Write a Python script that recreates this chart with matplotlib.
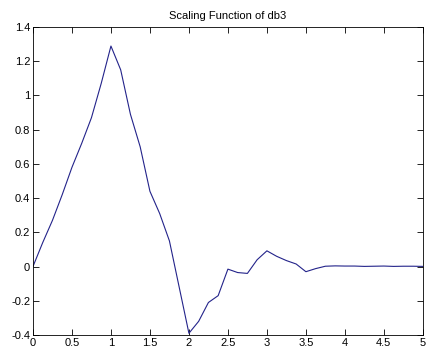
import numpy as np
import matplotlib
matplotlib.use("Agg")
import matplotlib.pyplot as plt

# db3 scaling function samples
x = np.arange(41) * 0.125
phi = [0.0, 0.14, 0.27, 0.42, 0.58, 0.72, 0.87, 1.07, 1.289,
       1.15, 0.89, 0.70, 0.44, 0.31, 0.15, -0.12, -0.39,
       -0.32, -0.21, -0.17, -0.015, -0.035, -0.04, 0.04, 0.092,
       0.06, 0.035, 0.015, -0.03, -0.012, 0.002, 0.004, 0.003,
       0.003, 0.001, 0.002, 0.003, 0.001, 0.002, 0.002, 0.001]

xticks = [0, 0.5, 1, 1.5, 2, 2.5, 3, 3.5, 4, 4.5, 5]
yticks = [-0.4, -0.2, 0, 0.2, 0.4, 0.6, 0.8, 1, 1.2, 1.4]

plt.rcParams["font.family"] = ["Liberation Sans", "DejaVu Sans"]
plt.rcParams["font.size"] = 8

fig = plt.figure(figsize=(4.28, 3.56), dpi=100)
ax = fig.add_axes([0.077, 0.059, 0.911, 0.865])
ax.plot(x, phi, color="#23238a", linewidth=0.8)

ax.set_xlim(0, 5)
ax.set_ylim(-0.4, 1.4)
ax.set_xticks(xticks)
ax.set_xticklabels([f"{t:g}" for t in xticks])
ax.set_yticks(yticks)
ax.set_yticklabels([f"{t:g}" for t in yticks])
ax.tick_params(direction="in", length=4, width=0.6, top=True, right=True, pad=2)
for s in ax.spines.values():
    s.set_linewidth(0.6)
ax.set_title("Scaling Function of db3", fontsize=8, pad=6)

fig.savefig("out.png", dpi=100)
